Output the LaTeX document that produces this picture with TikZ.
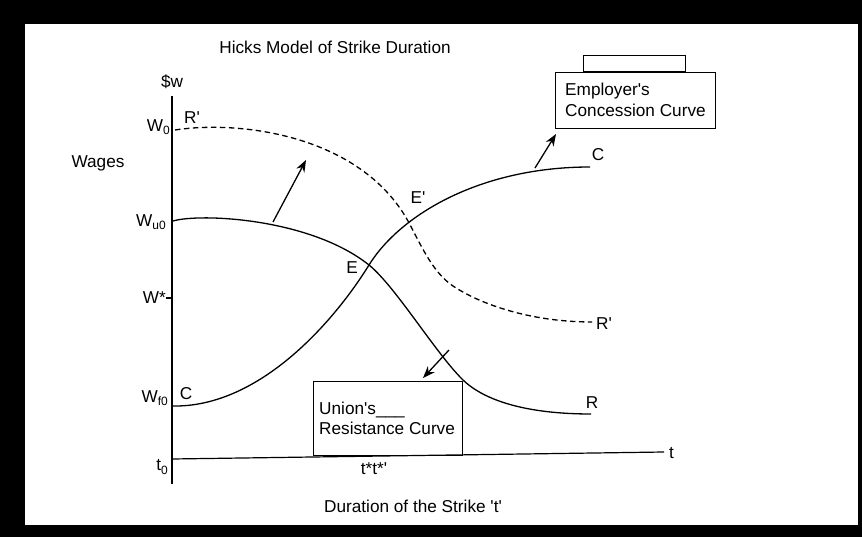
\documentclass[tikz,border=0pt]{standalone}
\usepackage{fontspec}
\setmainfont{Liberation Sans}
\usetikzlibrary{arrows.meta}
\newcommand\sbs[1]{\raisebox{-0.35ex}{\fontsize{12}{12}\selectfont #1}}
\newcommand\myq{\textquotesingle}
\begin{document}
\begin{tikzpicture}[x=1pt,y=-1pt,
  lbl/.style={font=\fontsize{17.2}{20}\selectfont, inner sep=0pt},
  crv/.style={line width=1.3pt},
  dcrv/.style={line width=1.3pt, dash pattern=on 5.5pt off 3.5pt},
  arr/.style={line width=1.3pt, -{Stealth[length=12pt,width=9pt]}},
  axis/.style={line width=1.2pt},
  boxl/.style={draw, line width=1pt, inner sep=0pt}]
\fill[black] (0,0) rectangle (862,537);
\fill[white] (25,24) rectangle (858,525);
% axes
\coordinate (ytop) at (172,96);
\coordinate (ybot) at (172,484);
\coordinate (xl) at (172,459);
\coordinate (xr) at (664,452);
\draw[axis] (ytop) -- (ybot);
\draw[axis] (xl) -- (xr);
\coordinate (tk1) at (166,298);
\coordinate (tk2) at (172,298);
\draw[axis] (tk1) -- (tk2);
% labels
\node[lbl] (title) at (335,47) {Hicks Model of Strike Duration};
\node[lbl] (sw) at (172,82) {\$w};
\node[lbl] (wages) at (98,163) {Wages};
\node[lbl, anchor=east] (w0) at (170,127) {W\sbs{0}};
\node[lbl, anchor=east] (wu0) at (166,222) {W\sbs{u0}};
\node[lbl, anchor=east] (ws) at (166,298) {W*};
\node[lbl, anchor=east] (wf0) at (168,398) {W\sbs{f0}};
\node[lbl, anchor=east] (t0) at (168,467) {t\sbs{0}};
\node[lbl] (rp1) at (192,118) {R\myq};
\node[lbl] (c1) at (186,394) {C};
\node[lbl] (e) at (352,268) {E};
\node[lbl] (ep) at (418,198) {E\myq};
\node[lbl] (c2) at (598,155) {C};
\node[lbl] (rp2) at (604,324) {R\myq};
\node[lbl] (r) at (592,403) {R};
\node[lbl, anchor=west] (t) at (669,453) {t};
\node[lbl] (tst) at (374,469) {t*t*\myq};
\node[lbl] (dur) at (413,506) {Duration of the Strike \myq t\myq};
% curves
\coordinate (Eq) at (369,265);
\coordinate (Ep) at (408,221);
\draw[crv] (173,221) .. controls (200,213) and (310,218) .. (Eq)
  .. controls (395,286) and (435,352) .. (462,379)
  .. controls (485,402) and (530,414) .. (591,414);
\draw[dcrv] (175,130) .. controls (240,120) and (360,135) .. (Ep)
  .. controls (420,243) and (432,272) .. (453,286)
  .. controls (480,304) and (530,322) .. (592,322);
\draw[crv] (172,406) .. controls (260,408) and (335,320) .. (Eq)
  .. controls (400,215) and (480,167) .. (590,167);
% boxes
\node[boxl, minimum width=102, minimum height=16, anchor=south west] (tab) at (583,72) {};
\node[boxl, minimum width=160, minimum height=56, anchor=north west] (emp) at (555,72) {};
\node[lbl, anchor=west, align=left] (empt) at (565,100) {Employer\myq s\\[1pt]Concession Curve};
\node[boxl, minimum width=149, minimum height=74, anchor=north west] (uni) at (313,381) {};
\node[lbl, anchor=west, align=left] (unit) at (319,418) {Union\myq s\_\_\_\\Resistance Curve};
% arrows
\coordinate (a1s) at (273,222);
\coordinate (a1e) at (306,160);
\draw[arr] (a1s) -- (a1e);
\coordinate (a2s) at (535,168);
\coordinate (a2e) at (556,134);
\draw[arr] (a2s) -- (a2e);
\coordinate (a3s) at (449,350);
\coordinate (a3e) at (423,378);
\draw[arr] (a3s) -- (a3e);
\end{tikzpicture}
\end{document}
